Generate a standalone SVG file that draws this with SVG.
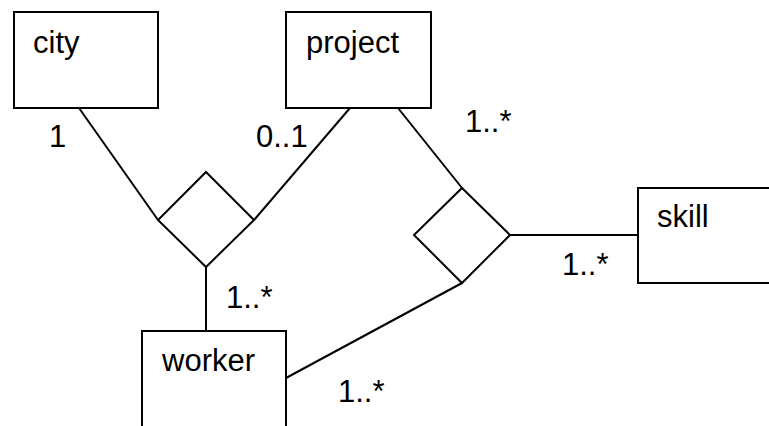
<svg xmlns="http://www.w3.org/2000/svg" width="769" height="426" viewBox="0 0 769 426">
<style>
.box{fill:#fff;stroke:#000;stroke-width:2}
.dia{fill:#fff;stroke:#000;stroke-width:2}
.ln{fill:none;stroke:#000;stroke-width:2}
text{font-family:"Liberation Sans",Arial,sans-serif;font-size:31px;fill:#000}
</style>
<rect width="769" height="426" fill="#fff"/>
<g id="connectors">
<line class="ln" x1="79" y1="108" x2="158" y2="220"/>
<line class="ln" x1="350" y1="108" x2="254" y2="220"/>
<line class="ln" x1="206" y1="267" x2="206" y2="331"/>
<line class="ln" x1="398" y1="108" x2="462" y2="188"/>
<line class="ln" x1="510" y1="235" x2="638" y2="235"/>
<line class="ln" x1="462" y1="283" x2="286" y2="378"/>
<text x="49" y="147">1</text>
<text x="256" y="147">0..1</text>
<text x="465" y="132">1..*</text>
<text x="562" y="275">1..*</text>
<text x="226" y="308">1..*</text>
<text x="338" y="402">1..*</text>
</g>
<g id="city"><rect class="box" x="14" y="12" width="144" height="96"/><text x="33" y="53">city</text></g>
<g id="project"><rect class="box" x="286" y="12" width="145" height="96"/><text x="306" y="53">project</text></g>
<g id="skill"><rect class="box" x="638" y="188" width="145" height="95"/><text x="657" y="227">skill</text></g>
<g id="worker"><rect class="box" x="142" y="331" width="144" height="110"/><text x="162" y="371">worker</text></g>
<g id="rel1"><polygon class="dia" points="206,172 254,220 206,267 158,220"/></g>
<g id="rel2"><polygon class="dia" points="462,188 510,235 462,283 414,235"/></g>
</svg>
